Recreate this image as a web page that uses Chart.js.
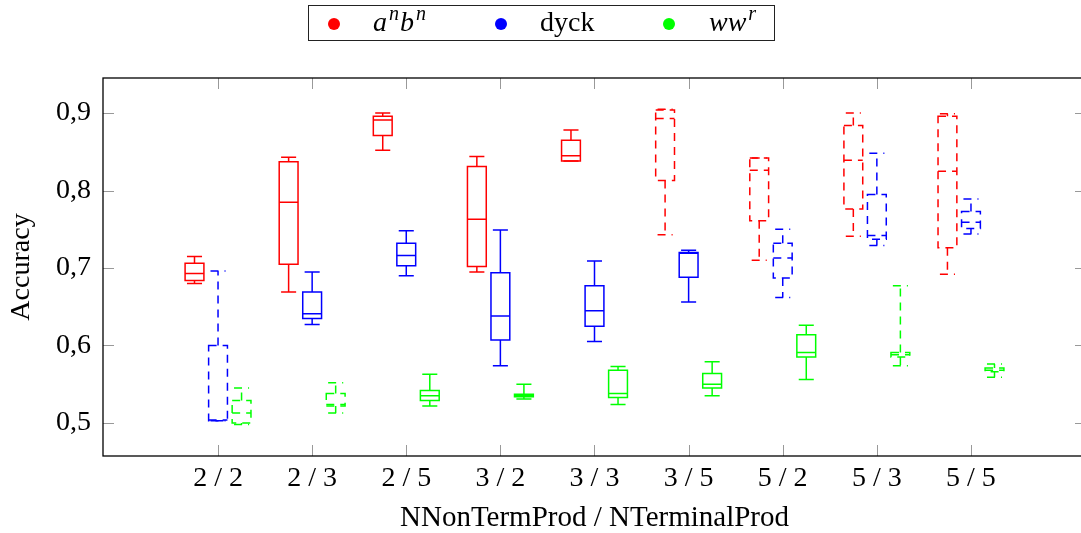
<!DOCTYPE html>
<html>
<head>
<meta charset="utf-8">
<script src="https://cdn.jsdelivr.net/npm/chart.js@4.4.0/dist/chart.umd.min.js"></script>
<style>
  body { margin: 0; overflow: hidden; background: #fff; }
  #wrap { position: relative; width: 1081px; height: 533px; overflow: hidden; }
  #bar-chart { position: absolute; left: 0; top: 0; }
  #legend { position: absolute; left: 308px; top: 5px; width: 467px; height: 36px; border: 1px solid #222; box-sizing: border-box; }
  .dot { position: absolute; width: 12px; height: 12px; border-radius: 6px; top: 12px; }
  .lab { position: absolute; top: 1px; font-family: 'Liberation Serif', serif; font-size: 28px; line-height: 30px; color: #000; white-space: nowrap; }
  .lab sup { font-size: 20px; vertical-align: 0; position: relative; top: -11px; margin-left: 2px; margin-right: 1px; }
</style>
</head>
<body>
<div id="wrap">
  <canvas id="bar-chart" width="1090" height="533"></canvas>
  <div id="legend">
    <span class="dot" style="left:19px;background:#ff0000"></span>
    <span class="lab" style="left:64px"><i>a<sup>n</sup>b<sup>n</sup></i></span>
    <span class="dot" style="left:186px;background:#0000ff"></span>
    <span class="lab" style="left:231px">dyck</span>
    <span class="dot" style="left:354px;background:#00ff00"></span>
    <span class="lab" style="left:400px"><i>ww<sup>r</sup></i></span>
  </div>
</div>
<script>
// categories on the x axis
const categories = ['2 / 2', '2 / 3', '2 / 5', '3 / 2', '3 / 3', '3 / 5', '5 / 2', '5 / 3', '5 / 5'];
const yTicks = [0.5, 0.6, 0.7, 0.8, 0.9];
const yTickLabels = ['0,5', '0,6', '0,7', '0,8', '0,9'];

// a^n b^n
const anbnMin = [0.680, 0.669, 0.852, 0.695, 0.838, 0.743, 0.710, 0.741, 0.692];
const anbnQ1  = [0.684, 0.705, 0.871, 0.702, 0.838, 0.813, 0.761, 0.776, 0.726];
const anbnMed = [0.693, 0.785, 0.891, 0.763, 0.845, 0.893, 0.826, 0.839, 0.825];
const anbnQ3  = [0.706, 0.837, 0.896, 0.831, 0.865, 0.904, 0.842, 0.884, 0.896];
const anbnMax = [0.715, 0.843, 0.900, 0.844, 0.878, 0.905, 0.842, 0.900, 0.899];
const anbnDashed = [false, false, false, false, false, true, true, true, true];

// dyck
const dyckMin = [0.503, 0.627, 0.690, 0.574, 0.605, 0.656, 0.662, 0.729, 0.744];
const dyckQ1  = [0.503, 0.635, 0.703, 0.607, 0.625, 0.688, 0.687, 0.737, 0.751];
const dyckMed = [0.504, 0.641, 0.716, 0.638, 0.645, 0.719, 0.713, 0.742, 0.759];
const dyckQ3  = [0.600, 0.669, 0.732, 0.694, 0.677, 0.720, 0.732, 0.795, 0.773];
const dyckMax = [0.696, 0.695, 0.748, 0.749, 0.709, 0.723, 0.750, 0.848, 0.789];
const dyckDashed = [true, false, false, false, false, false, true, true, true];

// ww^r
const wwrMin = [0.498, 0.513, 0.522, 0.531, 0.524, 0.535, 0.556, 0.574, 0.559];
const wwrQ1  = [0.500, 0.522, 0.529, 0.534, 0.533, 0.545, 0.585, 0.585, 0.566];
const wwrMed = [0.513, 0.524, 0.535, 0.535, 0.538, 0.550, 0.591, 0.588, 0.568];
const wwrQ3  = [0.529, 0.538, 0.542, 0.537, 0.568, 0.564, 0.614, 0.591, 0.571];
const wwrMax = [0.545, 0.552, 0.563, 0.550, 0.573, 0.579, 0.626, 0.677, 0.576];
const wwrDashed = [true, true, false, false, false, false, false, true, true];

const series = [
  {label: 'anbn', color: '#ff0000', shift: -0.25, min: anbnMin, q1: anbnQ1, med: anbnMed, q3: anbnQ3, max: anbnMax, dashed: anbnDashed},
  {label: 'dyck', color: '#0000ff', shift: 0, min: dyckMin, q1: dyckQ1, med: dyckMed, q3: dyckQ3, max: dyckMax, dashed: dyckDashed},
  {label: 'wwr', color: '#00ff00', shift: 0.25, min: wwrMin, q1: wwrQ1, med: wwrMed, q3: wwrQ3, max: wwrMax, dashed: wwrDashed}
];

const serif = 'Liberation Serif';

// boxes are drawn from the arrays through the chart scales
const boxPlugin = {
  id: 'boxes',
  afterDatasetsDraw(chart) {
    const ctx = chart.ctx;
    const x = chart.scales.x, y = chart.scales.y;
    ctx.save();
    ctx.lineWidth = 1.5;
    for (let i = 0; i < categories.length; i++) {
      for (const s of series) {
        const pos = i + 1 + s.shift;
        const xl = x.getPixelForValue(pos - 0.1), xr = x.getPixelForValue(pos + 0.1);
        const xc = x.getPixelForValue(pos);
        const cl = x.getPixelForValue(pos - 0.08), cr = x.getPixelForValue(pos + 0.08);
        const yMin = y.getPixelForValue(s.min[i]), yQ1 = y.getPixelForValue(s.q1[i]);
        const yMed = y.getPixelForValue(s.med[i]), yQ3 = y.getPixelForValue(s.q3[i]);
        const yMax = y.getPixelForValue(s.max[i]);
        ctx.strokeStyle = s.color;
        ctx.setLineDash(s.dashed[i] ? [8, 6] : []);
        ctx.beginPath();
        ctx.rect(xl, yQ3, xr - xl, yQ1 - yQ3);
        ctx.stroke();
        ctx.beginPath();
        ctx.moveTo(xl, yMed); ctx.lineTo(xr, yMed);
        ctx.moveTo(xc, yQ3); ctx.lineTo(xc, yMax);
        ctx.moveTo(cl, yMax); ctx.lineTo(cr, yMax);
        ctx.moveTo(xc, yQ1); ctx.lineTo(xc, yMin);
        ctx.moveTo(cl, yMin); ctx.lineTo(cr, yMin);
        ctx.stroke();
      }
    }
    ctx.restore();
  },
  afterDraw(chart) {
    const ctx = chart.ctx;
    const a = chart.chartArea;
    const x = chart.scales.x, y = chart.scales.y;
    ctx.save();
    // inner tick marks
    ctx.strokeStyle = '#999';
    ctx.lineWidth = 1;
    ctx.beginPath();
    for (const v of yTicks) {
      const py = Math.round(y.getPixelForValue(v)) + 0.5;
      ctx.moveTo(a.left, py); ctx.lineTo(a.left + 11, py);
      ctx.moveTo(a.right, py); ctx.lineTo(a.right - 11, py);
    }
    for (let i = 0; i < categories.length; i++) {
      const px = Math.round(x.getPixelForValue(i + 1)) + 0.5;
      ctx.moveTo(px, a.bottom); ctx.lineTo(px, a.bottom - 11);
      ctx.moveTo(px, a.top); ctx.lineTo(px, a.top + 11);
    }
    ctx.stroke();
    // frame
    ctx.strokeStyle = '#000';
    ctx.lineWidth = 1.3;
    ctx.strokeRect(a.left, a.top, a.right - a.left, a.bottom - a.top);
    ctx.restore();
  }
};

const config = {
  type: 'scatter',
  data: {
    datasets: series.map(s => ({
      label: s.label,
      data: s.med.map((v, i) => ({x: i + 1 + s.shift, y: v})),
      pointRadius: 0,
      borderColor: s.color,
      backgroundColor: s.color
    }))
  },
  options: {
    responsive: false,
    animation: false,
    devicePixelRatio: 1,
    layout: {padding: {top: 78, right: 4, left: 0, bottom: 0}},
    plugins: {legend: {display: false}, tooltip: {enabled: false}},
    scales: {
      x: {
        type: 'linear',
        min: -0.2222,
        max: 10.2222,
        afterBuildTicks: scale => { scale.ticks = categories.map((c, i) => ({value: i + 1})); },
        afterFit: scale => { scale.height = 77; },
        grid: {display: false, drawTicks: false},
        border: {display: false},
        ticks: {
          autoSkip: false, maxRotation: 0, padding: 6, color: '#000',
          font: {family: serif, size: 28},
          callback: v => categories[v - 1]
        },
        title: {display: true, text: 'NNonTermProd / NTerminalProd', color: '#000',
          font: {family: serif, size: 29, lineHeight: 1}, padding: {top: 0, bottom: 0}}
      },
      y: {
        min: 0.4574,
        max: 0.9452,
        afterBuildTicks: scale => { scale.ticks = yTicks.map(v => ({value: v})); },
        afterFit: scale => { scale.width = 103; },
        grid: {display: false, drawTicks: false},
        border: {display: false},
        ticks: {
          padding: 12, color: '#000',
          font: {family: serif, size: 28},
          callback: v => yTickLabels[yTicks.indexOf(v)]
        },
        title: {display: true, text: 'Accuracy', color: '#000',
          font: {family: serif, size: 28, lineHeight: 1}, padding: {top: 8, bottom: 0}}
      }
    }
  },
  plugins: [boxPlugin]
};

window.onload = function() {
  var ctx = document.getElementById('bar-chart').getContext('2d');
  window.myChart = new Chart(ctx, config);
};
</script>
</body>
</html>
